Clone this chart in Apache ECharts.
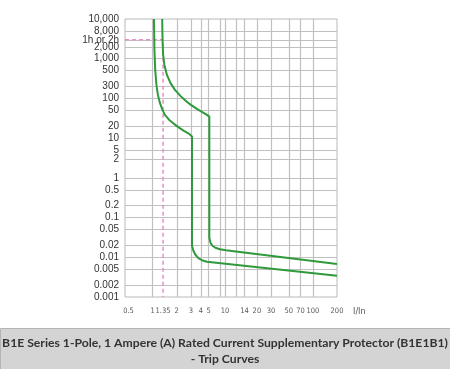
<!DOCTYPE html>
<html><head><meta charset="utf-8">
<script src="https://cdn.jsdelivr.net/npm/echarts@6/dist/echarts.min.js"></script>
<style>html,body{margin:0;padding:0;background:#fff}#c{width:450px;height:369px}</style>
</head><body><div id="c"></div>
<script>
// Trip curve data (I/In, seconds)
const upperCurve = [
  [1.317,10000],[1.329,2965],[1.352,1243],[1.403,697],[1.508,390],[1.667,246],
  [1.897,164],[2.222,116],[2.602,86.6],[3.003,68.7],[3.567,54.5],[4.12,45.8],
  [4.755,38.5],[5.1,34.9],[5.1,0.031],[5.27,0.0232],[5.57,0.0195],[6.07,0.0174],
  [6.91,0.01595],[8.2,0.01506],[200,0.00677]
];
const lowerCurve = [
  [1.038,10000],[1.053,1661],[1.077,522],[1.115,219],[1.164,122.6],[1.233,77.1],
  [1.325,51.4],[1.423,38.5],[1.611,28.8],[1.843,22.9],[2.159,18.1],[2.456,15.2],
  [2.795,13.2],[3.1,10.96],[3.1,0.0195],[3.227,0.01462],[3.418,0.0116],
  [3.725,0.00947],[4.12,0.00844],[4.755,0.00773],[200,0.00344]
];
const refMark = [[0.452,3000],[1.35,3000],[1.35,0.001]];

const yGridValues = [5000,3000,2000,1000,500,200,100,50,20,10,5,3,1,0.5,0.2,0.1,0.05,0.02,0.01,0.005,0.002];
const yTickValues = [10000,5000,3000,2000,1000,500,200,100,50,20,10,5,3,1,0.5,0.2,0.1,0.05,0.02,0.01,0.005,0.002,0.001];
const yTickLabels = ['10,000','8,000','1h or 2h','2,000','1,000','500','300','100','50','20','10','5','2','1','0.5','0.2','0.1','0.05','0.02','0.01','0.005','0.002','0.001'];

const xGridValues = [1,2,3,4,5,7,8,11,14,20,30,50,70,100];
const xTickValues = [0.5,1,1.35,2,3,4,5,8,14,20,30,50,70,100,200];
const xTickLabels = ['0.5','1','1.35','2','3','4','5','10','14','20','30','50','70','100','200'];
const xAxisName = 'I/In';
const captionLines = ['B1E Series 1-Pole, 1 Ampere (A) Rated Current Supplementary Protector (B1E1B1)', '- Trip Curves'];

const chart = echarts.init(document.getElementById('c'), null, {renderer:'canvas'});
const gridLine = {color:'#c0c0c0', width:1.2, type:'solid'};
const hidden = {color:'rgba(0,0,0,0)', width:0};
const gridData = [];
yGridValues.forEach(v => gridData.push({yAxis:v, lineStyle:gridLine, label:{show:false}}));
xGridValues.forEach(v => gridData.push({xAxis:v, lineStyle:gridLine, label:{show:false}}));
const labelData = [];
yTickValues.forEach((v,i) => labelData.push({yAxis:v, lineStyle:hidden, label:{
  show:true, position:'start', formatter:yTickLabels[i], distance:6,
  color:'#333', fontSize:10, fontFamily:'Liberation Sans, sans-serif'}}));
xTickValues.forEach((v,i) => labelData.push({xAxis:v, lineStyle:hidden, label:{
  show:true, position:'start', formatter:xTickLabels[i], distance:10,
  color:'#5a5a5a', fontSize:7.5, fontFamily:"'DejaVu Sans Condensed', 'Liberation Sans', sans-serif"}}));

chart.setOption({
  animation:false,
  grid:{left:125, top:19, width:212, height:278, show:true, borderColor:'#b8b8b8', borderWidth:1, backgroundColor:'transparent'},
  xAxis:{type:'log', logBase:10, min:0.452, max:200,
    name:xAxisName, nameLocation:'end', nameGap:16,
    nameTextStyle:{color:'#555', fontSize:9, fontFamily:"'DejaVu Sans Condensed', sans-serif", verticalAlign:'top', padding:[10,0,0,0]},
    axisLine:{show:false}, axisTick:{show:false}, axisLabel:{show:false}, splitLine:{show:false}},
  yAxis:{type:'log', logBase:10, min:0.001, max:10000,
    axisLine:{show:false}, axisTick:{show:false}, axisLabel:{show:false}, splitLine:{show:false}},
  series:[
    {type:'line', data:[], silent:true, z:1,
     markLine:{silent:true, z:1, precision:6, symbol:['none','none'], animation:false, data:gridData}},
    {type:'line', data:[], silent:true, z:1,
     markLine:{silent:true, z:1, precision:6, symbol:['none','none'], animation:false, data:labelData}},
    {type:'line', data:refMark, symbol:'none', silent:true, z:3,
     lineStyle:{color:'#e88fc8', width:1.5, type:[4,3]}},
    {type:'line', data:upperCurve, symbol:'none', silent:true, z:5,
     lineStyle:{color:'#2f9a3c', width:2}},
    {type:'line', data:lowerCurve, symbol:'none', silent:true, z:5,
     lineStyle:{color:'#2f9a3c', width:2}}
  ],
  graphic:[
    {type:'rect', left:0, top:328, z:10, shape:{width:450, height:41},
     style:{fill:'#d4d4d4', stroke:'#b4b4b4', lineWidth:1}},
    {type:'text', left:'center', top:337, z:11,
     style:{text:captionLines[0], fill:'#333', font:'bold 12.2px Lato', textAlign:'center'}},
    {type:'text', left:'center', top:353, z:11,
     style:{text:captionLines[1], fill:'#333', font:'bold 12.2px Lato', textAlign:'center'}}
  ]
});
</script></body></html>
